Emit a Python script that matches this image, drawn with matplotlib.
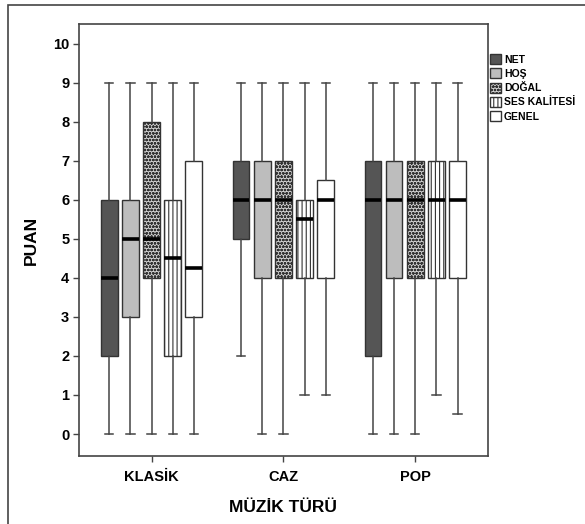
import numpy as np
import matplotlib
matplotlib.use("Agg")
import matplotlib.pyplot as plt
from matplotlib.patches import Patch, Rectangle

plt.rcParams['font.family'] = ['Liberation Sans', 'DejaVu Sans']
plt.rcParams['hatch.linewidth'] = 0.8

## box stats: (low whisker, q1, median, q3, high whisker)
groups = ["KLASİK", "CAZ", "POP"]
series = ["NET", "HOŞ", "DOĞAL", "SES KALİTESİ", "GENEL"]

net   = [(0, 2, 4, 6, 9), (2, 5, 6, 7, 9), (0, 2, 6, 7, 9)]
hos   = [(0, 3, 5, 6, 9), (0, 4, 6, 7, 9), (0, 4, 6, 7, 9)]
dogal = [(0, 4, 5, 8, 9), (0, 4, 6, 7, 9), (0, 4, 6, 7, 9)]
ses   = [(0, 2, 4.5, 6, 9), (1, 4, 5.5, 6, 9), (1, 4, 6, 7, 9)]
genel = [(0, 3, 4.25, 7, 9), (1, 4, 6, 6.5, 9), (0.5, 4, 6, 7, 9)]

all_series = [net, hos, dogal, ses, genel]

faces = ["#555555", "#bdbdbd", "#d0d0d0", "white", "white"]
hatches = [None, None, "ooooo", "||||", None]

fig = plt.figure(figsize=(5.85, 5.24), dpi=100)
ax = fig.add_axes([0.135, 0.130, 0.699, 0.824])

offsets = np.array([-0.32, -0.16, 0, 0.16, 0.32])
width = 0.125

for k, data in enumerate(all_series):
    stats = []
    for g, (lo, q1, med, q3, hi) in enumerate(data):
        stats.append(dict(whislo=lo, q1=q1, med=med, q3=q3, whishi=hi, fliers=[]))
    pos = np.arange(len(groups)) + offsets[k]
    bp = ax.bxp(stats, positions=pos, widths=width, patch_artist=True,
                showfliers=False,
                boxprops=dict(facecolor=faces[k], edgecolor="#333333", linewidth=1.0),
                whiskerprops=dict(color="#444444", linewidth=1.1),
                capprops=dict(color="#444444", linewidth=1.1),
                medianprops=dict(color="black", linewidth=2.6, solid_capstyle="butt"))
    for b in bp["boxes"]:
        if hatches[k]:
            b.set_hatch(hatches[k])

ax.set_xlim(-0.55, 2.55)
ax.set_ylim(-0.56, 10.5)
ax.set_yticks(range(0, 11))
ax.set_xticks(range(len(groups)))
ax.set_xticklabels(groups)
for lab in ax.get_xticklabels() + ax.get_yticklabels():
    lab.set_fontweight("bold")
    lab.set_fontsize(10.5)
ax.tick_params(direction="out", length=4, width=1, color="#444444", pad=3)
ax.tick_params(axis="x", pad=6)
for s in ax.spines.values():
    s.set_color("#444444")
    s.set_linewidth(1.2)

ax.set_ylabel("PUAN", fontsize=12.5, fontweight="bold", labelpad=10)
ax.set_xlabel("MÜZİK TÜRÜ", fontsize=12.5, fontweight="bold", labelpad=12)

handles = [Patch(facecolor=faces[k], edgecolor="#333333", hatch=hatches[k], linewidth=1.0)
           for k in range(len(series))]
ax.legend(handles, series, loc="upper left", bbox_to_anchor=(1.0, 0.935),
          frameon=False, prop=dict(weight="bold", size=7.5),
          handlelength=1.1, handleheight=1.1, handletextpad=0.25,
          labelspacing=0.35, borderpad=0.0, borderaxespad=0.2)

## outer frame around the whole thing
fig.patches.append(Rectangle((8 / 585, -0.02), 1.05, 1 - 5 / 524 + 0.02,
                             transform=fig.transFigure, fill=False,
                             edgecolor="#444444", linewidth=1.2))

fig.savefig("out.png", dpi=100)
